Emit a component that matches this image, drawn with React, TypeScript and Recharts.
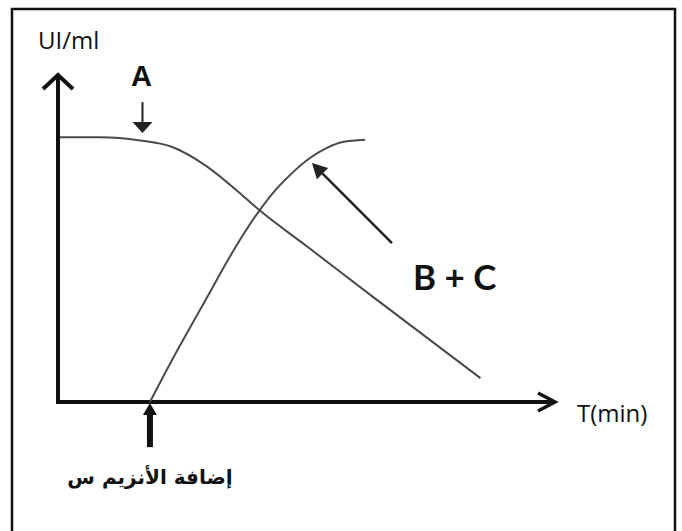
import { LineChart, Line, XAxis, YAxis, ReferenceLine } from 'recharts';

// Enzyme activity over time (arbitrary units)
const timeA = [0.4, 8.5, 16.5, 23, 30, 36.5, 40.5, 50, 63.5, 85];
const activityA = [81, 81, 80, 78, 72, 64, 58.7, 47.7, 32, 7.3];

const timeBC = [18.5, 23, 30, 34.6, 40.6, 44.1, 47.3, 50.7, 54.1, 57.3, 61.8];
const activityBC = [0, 13, 32, 44.5, 58.7, 65.4, 70.3, 74.6, 77.7, 79.5, 80.2];

const yLabel = 'UI/ml';
const xLabel = 'T(min)';
const labelA = 'A';
const labelBC = 'B + C';
const labelEnzyme = 'إضافة الأنزيم س';

const W = 682;
const H = 531;
const margin = { top: 75, right: 127, bottom: 129, left: 58 };
const plotRight = W - margin.right;
const plotBottom = H - margin.bottom;

const seriesA = timeA.map((t, i) => ({ t, v: activityA[i] }));
const seriesBC = timeBC.map((t, i) => ({ t, v: activityBC[i] }));

const curveColor = '#4a4a4a';
const ink = '#111';

type Seg = { x1: number; y1: number; x2: number; y2: number };

function arrowShape(width: number, headLen: number, headHalf: number, color: string) {
  return (p: any) => {
    const { x1, y1, x2, y2 } = p as Seg;
    const dx = x2 - x1;
    const dy = y2 - y1;
    const len = Math.sqrt(dx * dx + dy * dy) || 1;
    const ux = dx / len;
    const uy = dy / len;
    const bx = x2 - ux * headLen;
    const by = y2 - uy * headLen;
    const px = -uy * headHalf;
    const py = ux * headHalf;
    return (
      <g>
        <line x1={x1} y1={y1} x2={bx} y2={by} stroke={color} strokeWidth={width} />
        <polygon
          points={`${x2},${y2} ${bx + px},${by + py} ${bx - px},${by - py}`}
          fill={color}
        />
      </g>
    );
  };
}

export default function App() {
  return (
    <div style={{ position: 'absolute', left: 0, top: 0, width: W, height: H, background: '#fff' }}>
      <LineChart width={W} height={H} margin={margin}>
        <rect x={12} y={9} width={663} height={540} fill="none" stroke={ink} strokeWidth={2.5} />
        <XAxis type="number" dataKey="t" domain={[0, 100]} hide allowDataOverflow />
        <YAxis type="number" dataKey="v" domain={[0, 100]} hide allowDataOverflow />
        {/* axes drawn as reference lines */}
        <ReferenceLine
          segment={[{ x: 0, y: 0 }, { x: 100, y: 0 }]}
          ifOverflow="visible"
          stroke={ink}
          strokeWidth={4}
        />
        <ReferenceLine
          segment={[{ x: 0, y: -0.6 }, { x: 0, y: 100 }]}
          ifOverflow="visible"
          stroke={ink}
          strokeWidth={4}
        />
        <Line
          data={seriesA}
          dataKey="v"
          type="monotone"
          stroke={curveColor}
          strokeWidth={2}
          dot={false}
          activeDot={false}
          isAnimationActive={false}
        />
        <Line
          data={seriesBC}
          dataKey="v"
          type="monotone"
          stroke={curveColor}
          strokeWidth={2}
          dot={false}
          activeDot={false}
          isAnimationActive={false}
        />
        <ReferenceLine
          segment={[{ x: 17, y: 91.7 }, { x: 17, y: 82.3 }]}
          ifOverflow="visible"
          shape={arrowShape(2, 11, 10, '#222')}
        />
        <ReferenceLine
          segment={[{ x: 67.2, y: 48.6 }, { x: 51.1, y: 73.1 }]}
          ifOverflow="visible"
          shape={arrowShape(2.5, 15, 8, '#222')}
        />
        <ReferenceLine
          segment={[{ x: 18.5, y: -13.8 }, { x: 18.5, y: -0.3 }]}
          ifOverflow="visible"
          shape={arrowShape(6, 12, 7, ink)}
        />
        {/* axis arrow heads */}
        <path
          d={`M ${margin.left - 15} ${margin.top + 14} L ${margin.left} ${margin.top} L ${margin.left + 15} ${margin.top + 14}`}
          fill="none"
          stroke={ink}
          strokeWidth={4}
        />
        <path
          d={`M ${plotRight - 17} ${plotBottom - 9} L ${plotRight} ${plotBottom} L ${plotRight - 17} ${plotBottom + 9}`}
          fill="none"
          stroke={ink}
          strokeWidth={3.5}
        />
        <text x={38} y={49} fontFamily="Open Sans" fontSize={24} fill={ink}>{yLabel}</text>
        <text x={577} y={422} fontFamily="Open Sans" fontSize={24} fill={ink}>{xLabel}</text>
        <text x={131} y={86} fontFamily="Liberation Sans" fontWeight="bold" fontSize={29} fill={ink}>{labelA}</text>
        <text x={413} y={290} fontFamily="Lato" fontWeight="bold" fontSize={35} fill={ink}>{labelBC}</text>
        <text x={150} y={484} textAnchor="middle" fontFamily="DejaVu Sans" fontWeight="bold" fontSize={20} fill={ink}>{labelEnzyme}</text>
      </LineChart>
    </div>
  );
}
